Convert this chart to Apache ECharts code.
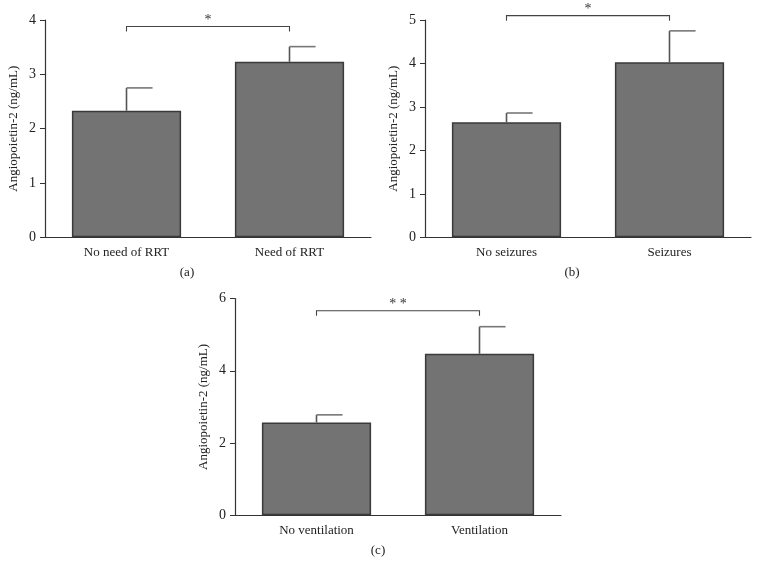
<!DOCTYPE html>
<html>
<head>
<meta charset="utf-8">
<script src="https://cdn.jsdelivr.net/npm/echarts@6/dist/echarts.min.js"></script>
<style>html,body{margin:0;padding:0;background:#fff;}#c{width:759px;height:567px;}</style>
</head>
<body>
<div id="c"></div>
<script>
// Panel (a)
const catsA = ['No need of RRT', 'Need of RRT'];
const meanA = [2.33, 3.23];
const errTopA = [2.75, 3.51];
const sigA = { from: 0, to: 1, y: 3.88, label: '*' };
// Panel (b)
const catsB = ['No seizures', 'Seizures'];
const meanB = [2.65, 4.03];
const errTopB = [2.86, 4.75];
const sigB = { from: 0, to: 1, y: 5.1, label: '*' };
// Panel (c)
const catsC = ['No ventilation', 'Ventilation'];
const meanC = [2.57, 4.47];
const errTopC = [2.78, 5.22];
const sigC = { from: 0, to: 1, y: 5.66, label: '* *' };
// Axis settings
const yMax = [4, 5, 6];
const yInterval = [1, 1, 2];
const yName = 'Angiopoietin-2 (ng/mL)';
const panelLabels = ['(a)', '(b)', '(c)'];

const FONT = '"Liberation Serif", "DejaVu Serif", serif';
const AXIS = '#333';
const grids = [
  { left: 45, width: 326, top: 20, height: 217.3 },
  { left: 425, width: 326, top: 20, height: 217.3 },
  { left: 235, width: 326, top: 298.5, height: 216.8 }
];
const cats = [catsA, catsB, catsC];
const means = [meanA, meanB, meanC];
const errs = [errTopA, errTopB, errTopC];
const sigs = [sigA, sigB, sigC];

const xAxes = cats.map((c, i) => ({
  type: 'category', gridIndex: i, data: c,
  axisLine: { lineStyle: { color: AXIS, width: 1.2 } },
  axisTick: { alignWithLabel: true, length: 5, lineStyle: { color: AXIS } },
  axisLabel: { color: '#222', fontFamily: FONT, fontSize: 13, margin: 9 }
}));
const yAxes = yMax.map((m, i) => ({
  type: 'value', gridIndex: i, min: 0, max: m, interval: yInterval[i],
  name: yName, nameLocation: 'middle', nameGap: 25,
  nameTextStyle: { color: '#222', fontFamily: FONT, fontSize: 13 },
  axisLine: { show: true, lineStyle: { color: AXIS, width: 1.2 } },
  axisTick: { show: true, length: 5, lineStyle: { color: AXIS } },
  splitLine: { show: false },
  axisLabel: { color: '#222', fontFamily: FONT, fontSize: 14, margin: 9 }
}));

const series = [];
for (let i = 0; i < 3; i++) {
  series.push({
    type: 'bar', xAxisIndex: i, yAxisIndex: i, data: means[i], barWidth: '67%',
    itemStyle: { color: '#737373', borderColor: '#3a3a3a', borderWidth: 1.5 },
    silent: true, z: 2
  });
  series.push({
    type: 'custom', xAxisIndex: i, yAxisIndex: i, clip: false, z: 3,
    data: means[i].map((v, k) => [k, v, errs[i][k]]),
    renderItem: function (params, api) {
      const base = api.coord([api.value(0), api.value(1)]);
      const top = api.coord([api.value(0), api.value(2)]);
      const capW = api.size([1, 0])[0] * 0.16;
      return {
        type: 'group', children: [
          { type: 'line', shape: { x1: base[0], y1: base[1], x2: top[0], y2: top[1] }, style: { stroke: '#555', lineWidth: 1.6 } },
          { type: 'line', shape: { x1: top[0], y1: top[1], x2: top[0] + capW, y2: top[1] }, style: { stroke: '#777', lineWidth: 1.6 } }
        ]
      };
    }
  });
  const s = sigs[i];
  series.push({
    type: 'custom', xAxisIndex: i, yAxisIndex: i, clip: false, z: 4,
    data: [[s.from, s.to, s.y, s.label]],
    renderItem: function (params, api) {
      const p0 = api.coord([api.value(0), api.value(2)]);
      const p1 = api.coord([api.value(1), api.value(2)]);
      const drop = 5;
      return {
        type: 'group', children: [
          { type: 'polyline', shape: { points: [[p0[0], p0[1] + drop], [p0[0], p0[1]], [p1[0], p1[1]], [p1[0], p1[1] + drop]] }, style: { stroke: '#444', lineWidth: 1.1, fill: null } },
          { type: 'text', style: { text: api.value(3), x: (p0[0] + p1[0]) / 2, y: p0[1] + 1, align: 'center', verticalAlign: 'bottom', fill: '#333', font: '14px ' + FONT } }
        ]
      };
    }
  });
}

const titles = [
  { text: panelLabels[0], left: 187, top: 266 },
  { text: panelLabels[1], left: 572, top: 266 },
  { text: panelLabels[2], left: 378, top: 544 }
].map(t => ({ text: t.text, left: t.left, top: t.top, textAlign: 'center', padding: 0,
  textStyle: { color: '#222', fontFamily: FONT, fontSize: 13, fontWeight: 'normal' } }));

const chart = echarts.init(document.getElementById('c'), null, { renderer: 'canvas' });
chart.setOption({
  animation: false,
  backgroundColor: '#fff',
  title: titles,
  grid: grids,
  xAxis: xAxes,
  yAxis: yAxes,
  series: series
});
</script>
</body>
</html>
